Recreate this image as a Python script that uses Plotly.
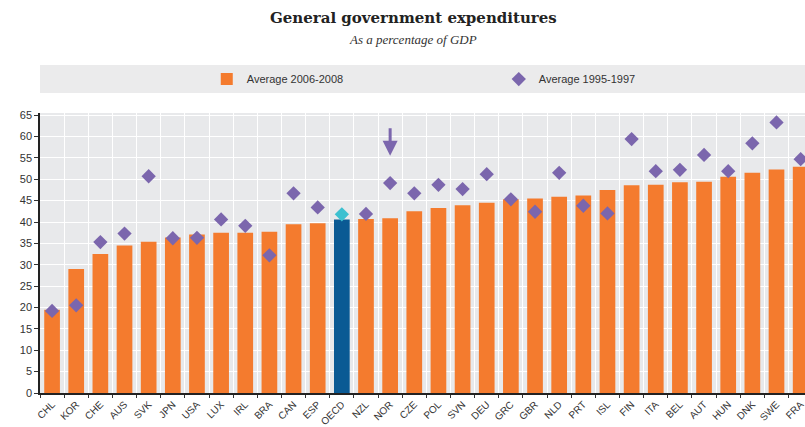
import plotly.graph_objects as go

countries = ["CHL", "KOR", "CHE", "AUS", "SVK", "JPN", "USA", "LUX", "IRL", "BRA",
             "CAN", "ESP", "OECD", "NZL", "NOR", "CZE", "POL", "SVN", "DEU", "GRC",
             "GBR", "NLD", "PRT", "ISL", "FIN", "ITA", "BEL", "AUT", "HUN", "DNK",
             "SWE", "FRA"]
avg_2006_2008 = [19.5, 29.0, 32.5, 34.5, 35.4, 36.4, 37.1, 37.5, 37.5, 37.7,
                 39.5, 39.7, 40.6, 40.7, 40.9, 42.5, 43.3, 43.9, 44.5, 45.3,
                 45.5, 45.9, 46.2, 47.5, 48.6, 48.7, 49.3, 49.4, 50.6, 51.5,
                 52.3, 52.9]
avg_1995_1997 = [19.2, 20.5, 35.3, 37.3, 50.7, 36.2, 36.3, 40.6, 39.1, 32.2,
                 46.7, 43.4, 41.8, 41.9, 49.1, 46.7, 48.7, 47.7, 51.2, 45.3,
                 42.4, 51.5, 43.8, 42.0, 59.4, 51.9, 52.2, 55.7, 51.9, 58.4,
                 63.3, 54.7]
y_ticks = list(range(0, 70, 5))
highlight = "OECD"
arrow_target = "NOR"

ORANGE = "#f47b2e"
BLUE = "#0a5a94"
PURPLE = "#7b66ad"
CYAN = "#3cc0d0"
BG = "#e8e9eb"

bar_colors = [BLUE if c == highlight else ORANGE for c in countries]
dot_colors = [CYAN if c == highlight else PURPLE for c in countries]

FONT = "Liberation Sans Narrow, Arial Narrow, Liberation Sans, Arial, sans-serif"

fig = go.Figure()
fig.add_trace(go.Bar(
    x=countries, y=avg_2006_2008, name="Average 2006-2008",
    marker=dict(color=bar_colors, line=dict(width=0)),
))
fig.add_trace(go.Scatter(
    x=countries, y=avg_1995_1997, name="Average 1995-1997", mode="markers",
    marker=dict(symbol="diamond", size=11, color=dot_colors, line=dict(width=0)),
))

# arrow pointing to NOR
fig.add_annotation(
    x=arrow_target, y=55.5, xref="x", yref="y", text="", showarrow=True,
    ax=0, ay=-29, arrowhead=2, arrowsize=1, arrowwidth=3, arrowcolor=PURPLE,
)

# title and subtitle
fig.add_annotation(
    x=0.4876, y=1.338, xref="paper", yref="paper", showarrow=False,
    text="<b>General government expenditures</b>",
    font=dict(family="DejaVu Serif, Liberation Serif, serif", size=15, color="#222"),
    xanchor="center", yanchor="middle",
)
fig.add_annotation(
    x=0.4876, y=1.261, xref="paper", yref="paper", showarrow=False,
    text="<i>As a percentage of GDP</i>",
    font=dict(family="Liberation Serif, DejaVu Serif, serif", size=13, color="#333"),
    xanchor="center", yanchor="middle",
)

# legend band
fig.add_shape(
    type="rect", xref="paper", yref="paper", x0=0, x1=1.0, y0=1.071, y1=1.171,
    fillcolor="#ebebec", line=dict(width=0), layer="below",
)

fig.update_layout(
    width=805, height=427,
    margin=dict(l=40, r=0, t=113, b=34, autoexpand=False),
    paper_bgcolor="white", plot_bgcolor=BG,
    bargap=0.35,
    font=dict(family=FONT, size=11, color="#333"),
    showlegend=True,
    legend=dict(
        orientation="h", x=0.218, y=1.121, xanchor="left", yanchor="middle",
        bgcolor="rgba(0,0,0,0)", font=dict(family=FONT, size=11, color="#333"),
        entrywidth=247, entrywidthmode="pixels", itemclick=False,
    ),
    xaxis=dict(
        type="category", range=[-0.5, 31.18],
        tickson="boundaries", ticks="outside", ticklen=3, tickcolor="#333",
        showgrid=True, gridcolor="white", gridwidth=1,
        showline=True, linecolor="#222", linewidth=1.5,
        tickangle=-45, tickfont=dict(size=10, color="#333"),
        automargin=False, fixedrange=True,
    ),
    yaxis=dict(
        range=[0, 65.5], tickvals=y_ticks, ticks="outside", ticklen=4,
        tickcolor="#333", showgrid=True, gridcolor="white", gridwidth=1,
        showline=True, linecolor="#222", linewidth=1.5, zeroline=False,
        tickfont=dict(size=11, color="#333"), automargin=False, fixedrange=True,
    ),
)

# remove the browser's default 8px body margin so the figure fills the window
fig.write_html(
    "out.html",
    config={"displayModeBar": False},
    post_script="document.body.style.margin='0';document.body.style.overflow='hidden';",
)
